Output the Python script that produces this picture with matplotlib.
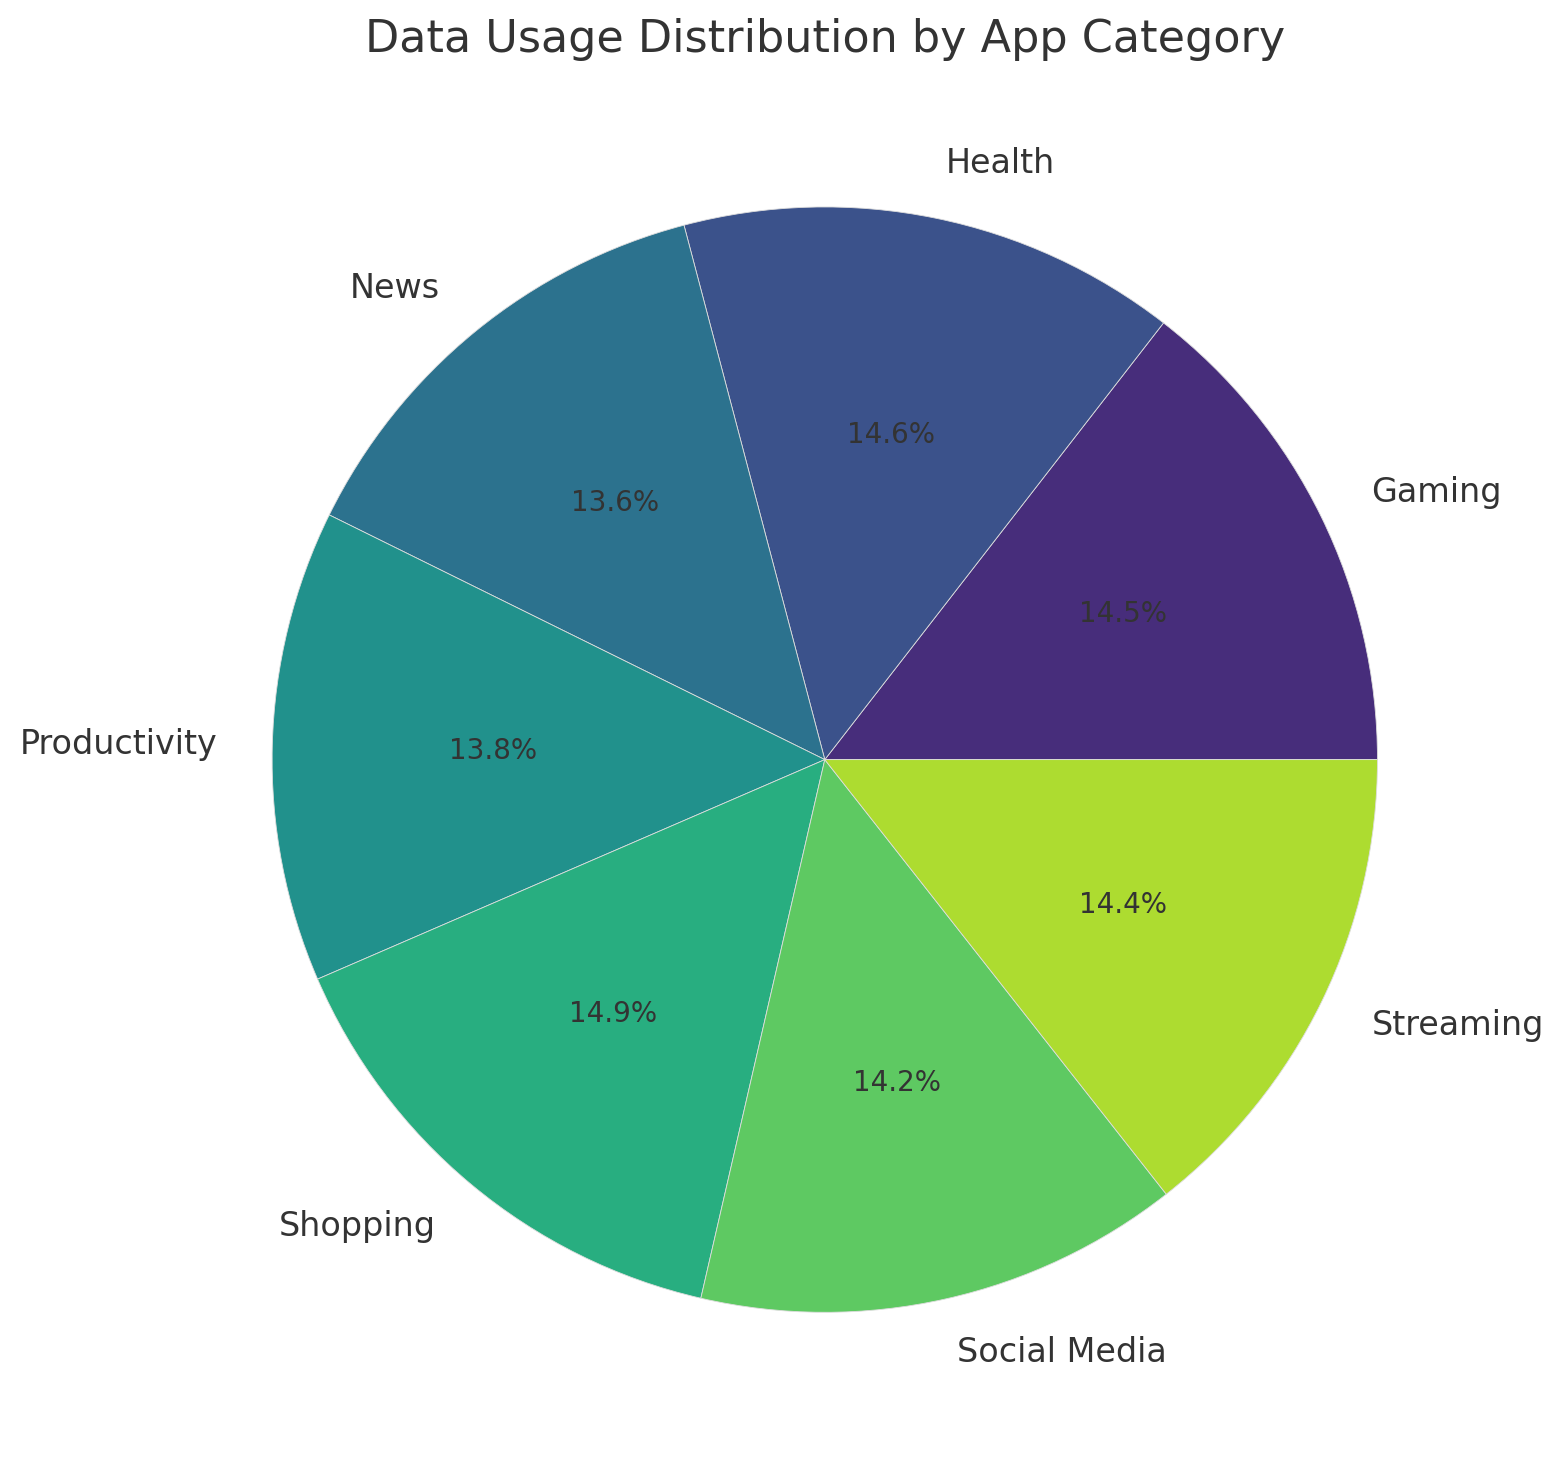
import matplotlib
matplotlib.use("Agg")
import matplotlib.pyplot as plt
import seaborn as sns

categories = ['Gaming', 'Health', 'News', 'Productivity', 'Shopping', 'Social Media', 'Streaming']
usage_share = [14.5, 14.6, 13.6, 13.8, 14.9, 14.2, 14.4]

sns.set_theme(style='whitegrid')
plt.rcParams['text.color'] = '#333333'
colors = sns.color_palette('viridis', len(categories))

fig = plt.figure(figsize=(7.815, 7.355), dpi=200)
ax = fig.add_axes([0.0857, 0.0136, 0.884, 0.940])
wedges, texts, autotexts = ax.pie(usage_share, labels=categories, colors=colors,
                                  autopct='%1.1f%%', startangle=0,
                                  wedgeprops={'linewidth': 0.3, 'edgecolor': '#dddddd'},
                                  textprops={'fontsize': 12, 'color': '#333333'})
for t in autotexts:
    t.set_fontsize(10)
ax.set_title('Data Usage Distribution by App Category', fontsize=16, color='#333333')
ax.set_xlim(-1.25, 1.25)
ax.set_ylim(-1.25, 1.25)
ax.set_aspect('equal', adjustable='box')

plt.savefig('out.png', dpi=200)
